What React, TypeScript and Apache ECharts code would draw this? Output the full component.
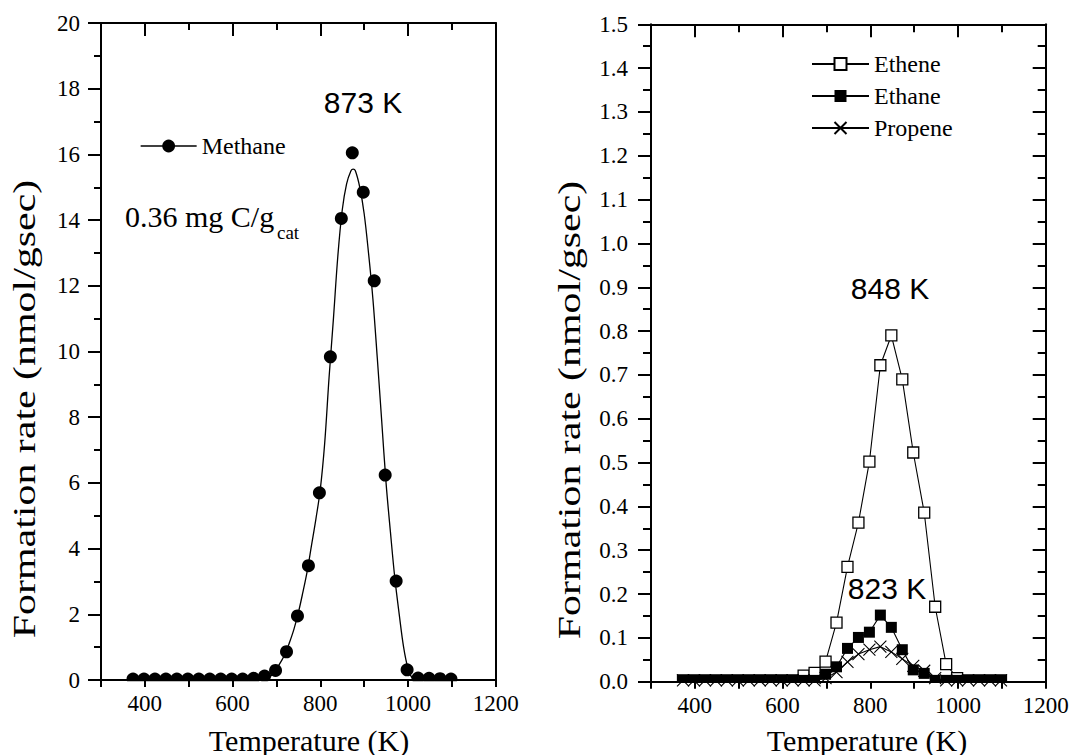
import React, { useEffect, useRef } from "react";
import * as echarts from "echarts";

// ---------- data ----------
const temperatures = [373, 398, 423, 448, 473, 498, 523, 548, 573, 598, 623, 648, 673, 698, 723, 748, 773, 798, 823, 848, 873, 898, 923, 948, 973, 998, 1023, 1048, 1073, 1098];
const methane = [0.03, 0.03, 0.03, 0.03, 0.03, 0.03, 0.03, 0.03, 0.03, 0.03, 0.03, 0.05, 0.12, 0.29, 0.86, 1.95, 3.48, 5.7, 9.84, 14.05, 16.05, 14.85, 12.15, 6.24, 3.01, 0.31, 0.06, 0.05, 0.04, 0.03];
const fitTemperatures = [680, 690, 700, 710, 720, 730, 740, 750, 760, 770, 780, 790, 800, 810, 820, 830, 840, 850, 860, 870, 875, 880, 890, 900, 910, 920, 930, 940, 950, 960, 970, 980, 990, 1000, 1010, 1020];
const methaneFit = [0.05, 0.15, 0.33, 0.55, 0.8, 1.15, 1.55, 2.05, 2.65, 3.3, 4.1, 4.9, 5.8, 7.2, 9.2, 11.0, 12.9, 14.3, 15.1, 15.5, 15.55, 15.5, 15.0, 14.2, 13.0, 11.6, 9.8, 7.9, 6.0, 4.5, 3.1, 2.0, 1.0, 0.35, 0.05, 0.0];
const ethene = [0.003, 0.003, 0.003, 0.003, 0.003, 0.003, 0.003, 0.003, 0.003, 0.003, 0.003, 0.014, 0.02, 0.046, 0.135, 0.262, 0.363, 0.502, 0.722, 0.79, 0.69, 0.523, 0.386, 0.171, 0.04, 0.008, 0.003, 0.003, 0.003, 0.003];
const ethane = [0.003, 0.003, 0.003, 0.003, 0.003, 0.003, 0.003, 0.003, 0.003, 0.003, 0.003, 0.003, 0.003, 0.017, 0.034, 0.076, 0.101, 0.113, 0.152, 0.124, 0.073, 0.027, 0.019, 0.003, 0.003, 0.003, 0.003, 0.003, 0.003, 0.003];
const propene = [0.003, 0.003, 0.003, 0.003, 0.003, 0.003, 0.003, 0.003, 0.003, 0.003, 0.003, 0.003, 0.003, 0.008, 0.022, 0.045, 0.063, 0.073, 0.08, 0.068, 0.052, 0.036, 0.025, 0.008, 0.003, 0.003, 0.003, 0.003, 0.003, 0.003];
const xLabelValues = [400, 600, 800, 1000, 1200];
const xTopMajor = [400, 600, 800, 1000];
const xTopMinor = [500, 700, 900, 1100];

const SERIF = "'Liberation Serif', 'Times New Roman', serif";
const SANS = "'Liberation Sans', Arial, sans-serif";
const BLACK = "#000";

const pairs = (xs: number[], ys: number[]) => xs.map((x, i) => [x, ys[i]]);

const lineSt = { color: BLACK, width: 2 };

function makeXAxes(gridIndex: number) {
  return [
    {
      type: "value", gridIndex, position: "bottom", min: 300, max: 1200, interval: 100, z: 10,
      axisLine: { show: true, onZero: false, lineStyle: lineSt },
      axisTick: { show: true, inside: false, length: 7, lineStyle: lineSt },
      axisLabel: {
        customValues: xLabelValues, margin: 12, color: BLACK, fontFamily: SERIF, fontSize: 23,
        formatter: (v: number) => String(v),
      },
      splitLine: { show: false },
    },
    {
      type: "value", gridIndex, position: "top", min: 300, max: 1200, z: 10,
      axisLine: { show: true, onZero: false, lineStyle: lineSt },
      axisTick: { show: true, inside: true, length: 13, customValues: xTopMajor, lineStyle: lineSt },
      axisLabel: { show: false },
      splitLine: { show: false },
    },
    {
      type: "value", gridIndex, position: "top", min: 300, max: 1200, z: 10,
      axisLine: { show: false, onZero: false },
      axisTick: { show: true, inside: true, length: gridIndex === 0 ? 7 : 8, customValues: xTopMinor, lineStyle: lineSt },
      axisLabel: { show: false },
      splitLine: { show: false },
    },
  ];
}

export default function App() {
  const ref = useRef<HTMLDivElement>(null);

  useEffect(() => {
    document.body.style.margin = "0";
    if (!ref.current) return;
    const chart = echarts.init(ref.current, undefined, { renderer: "svg" });

    const option: any = {
      animation: false,
      backgroundColor: "#fff",
      textStyle: { fontFamily: SERIF, color: BLACK },
      grid: [
        { left: 101, top: 23, width: 394.7, height: 657, containLabel: false, outerBoundsMode: "none" },
        { left: 651, top: 24.3, width: 394.7, height: 657.4, containLabel: false, outerBoundsMode: "none" },
      ],
      xAxis: [...makeXAxes(0), ...makeXAxes(1)],
      yAxis: [
        {
          type: "value", gridIndex: 0, position: "left", min: 0, max: 20, interval: 2, z: 10,
          axisLine: { show: true, onZero: false, lineStyle: lineSt },
          axisTick: { show: true, inside: false, length: 13, lineStyle: lineSt },
          minorTick: { show: true, splitNumber: 2, length: 7, lineStyle: lineSt },
          axisLabel: { margin: 21, color: BLACK, fontFamily: SERIF, fontSize: 23, formatter: (v: number) => String(v) },
          splitLine: { show: false }, minorSplitLine: { show: false },
        },
        {
          type: "value", gridIndex: 0, position: "right", min: 0, max: 20, z: 10,
          axisLine: { show: true, onZero: false, lineStyle: lineSt },
          axisTick: { show: false }, axisLabel: { show: false }, splitLine: { show: false },
        },
        {
          type: "value", gridIndex: 1, position: "left", min: 0, max: 1.5, interval: 0.1, z: 10,
          axisLine: { show: true, onZero: false, lineStyle: lineSt },
          axisTick: { show: true, inside: false, length: 13, lineStyle: lineSt },
          minorTick: { show: true, splitNumber: 2, length: 8, lineStyle: lineSt },
          axisLabel: { margin: 23, color: BLACK, fontFamily: SERIF, fontSize: 23, formatter: (v: number) => v.toFixed(1) },
          splitLine: { show: false }, minorSplitLine: { show: false },
        },
        {
          type: "value", gridIndex: 1, position: "right", min: 0, max: 1.5, interval: 0.1, z: 10,
          axisLine: { show: true, onZero: false, lineStyle: lineSt },
          axisTick: { show: true, inside: true, length: 13, lineStyle: lineSt },
          minorTick: { show: true, splitNumber: 2, length: 8, lineStyle: lineSt },
          axisLabel: { show: false }, splitLine: { show: false }, minorSplitLine: { show: false },
        },
      ],
      legend: [
        {
          data: ["Methane"], left: 135, top: 129, itemWidth: 56, itemHeight: 16, selectedMode: false,
          textStyle: { fontFamily: SERIF, fontSize: 24, color: BLACK },
          lineStyle: { width: 1.3, opacity: 1, color: BLACK },
        },
        {
          data: ["Ethene", "Ethane", "Propene"], orient: "vertical", left: 806, top: 47,
          itemWidth: 57, itemHeight: 15, itemGap: 8, selectedMode: false,
          textStyle: { fontFamily: SERIF, fontSize: 24, color: BLACK },
        },
      ],
      series: [
        {
          name: "Methane fit", type: "line", xAxisIndex: 0, yAxisIndex: 0, z: 2,
          data: pairs(fitTemperatures, methaneFit), smooth: 0.35, symbol: "none", showSymbol: false,
          lineStyle: { color: BLACK, width: 1.3 }, emphasis: { disabled: true }, silent: true,
        },
        {
          name: "Methane", type: "line", xAxisIndex: 0, yAxisIndex: 0, z: 3,
          data: pairs(temperatures, methane), symbol: "circle", symbolSize: 13,
          itemStyle: { color: BLACK }, lineStyle: { width: 0, opacity: 0, color: BLACK },
          emphasis: { disabled: true }, silent: true,
        },
        {
          name: "Ethene", type: "line", xAxisIndex: 3, yAxisIndex: 2, z: 3,
          data: pairs(temperatures, ethene), symbol: "rect", symbolSize: 11,
          itemStyle: { color: "#fff", borderColor: BLACK, borderWidth: 1.3 },
          lineStyle: { color: BLACK, width: 1.1 }, emphasis: { disabled: true }, silent: true,
        },
        {
          name: "Ethane", type: "line", xAxisIndex: 3, yAxisIndex: 2, z: 4,
          data: pairs(temperatures, ethane), symbol: "rect", symbolSize: 11,
          itemStyle: { color: BLACK }, lineStyle: { color: BLACK, width: 1.1 },
          emphasis: { disabled: true }, silent: true,
        },
        {
          name: "Propene", type: "line", xAxisIndex: 3, yAxisIndex: 2, z: 5,
          data: pairs(temperatures, propene), symbol: "path://M0,0L12,12M12,0L0,12", symbolSize: 12,
          itemStyle: { color: "transparent", borderColor: BLACK, borderWidth: 1.1 },
          lineStyle: { color: BLACK, width: 1.1 }, emphasis: { disabled: true }, silent: true,
        },
      ],
      graphic: [
        // masks emulating clipping of markers below the x axis
        { type: "rect", z: 5, silent: true, shape: { x: 95, y: 681.2, width: 406, height: 10 }, style: { fill: "#fff" } },
        { type: "rect", z: 5, silent: true, shape: { x: 645, y: 682.9, width: 406, height: 10 }, style: { fill: "#fff" } },
        { type: "text", z: 20, x: 363, y: 102, style: { text: "873 K", fontFamily: SANS, fontSize: 30, fill: BLACK, textAlign: "center", textVerticalAlign: "middle" } },
        { type: "text", z: 20, x: 890, y: 288, style: { text: "848 K", fontFamily: SANS, fontSize: 30, fill: BLACK, textAlign: "center", textVerticalAlign: "middle" } },
        { type: "text", z: 20, x: 887, y: 588, style: { text: "823 K", fontFamily: SANS, fontSize: 30, fill: BLACK, textAlign: "center", textVerticalAlign: "middle" } },
        { type: "text", z: 20, x: 125, y: 216.6, style: { text: "0.36 mg C/g", fontFamily: SERIF, fontSize: 30, fill: BLACK, textAlign: "left", textVerticalAlign: "middle" } },
        { type: "text", z: 20, x: 277, y: 232.6, style: { text: "cat", fontFamily: SERIF, fontSize: 19, fill: BLACK, textAlign: "left", textVerticalAlign: "middle" } },
        { type: "text", z: 20, x: 309, y: 740, style: { text: "Temperature (K)", fontFamily: SERIF, fontSize: 30, fill: BLACK, textAlign: "center", textVerticalAlign: "middle" } },
        { type: "text", z: 20, x: 867, y: 740, style: { text: "Temperature (K)", fontFamily: SERIF, fontSize: 30, fill: BLACK, textAlign: "center", textVerticalAlign: "middle" } },
        { type: "text", z: 20, x: 24, y: 409, rotation: Math.PI / 2, scaleX: 1.31, scaleY: 1, style: { text: "Formation rate (nmol/gsec)", fontFamily: SERIF, fontSize: 32, fill: BLACK, textAlign: "center", textVerticalAlign: "middle" } },
        { type: "text", z: 20, x: 569, y: 410, rotation: Math.PI / 2, scaleX: 1.31, scaleY: 1, style: { text: "Formation rate (nmol/gsec)", fontFamily: SERIF, fontSize: 32, fill: BLACK, textAlign: "center", textVerticalAlign: "middle" } },
      ],
    };

    chart.setOption(option);
    return () => chart.dispose();
  }, []);

  return (
    <div
      ref={ref}
      style={{ position: "fixed", left: 0, top: 0, width: 1072, height: 755, background: "#fff" }}
    />
  );
}
